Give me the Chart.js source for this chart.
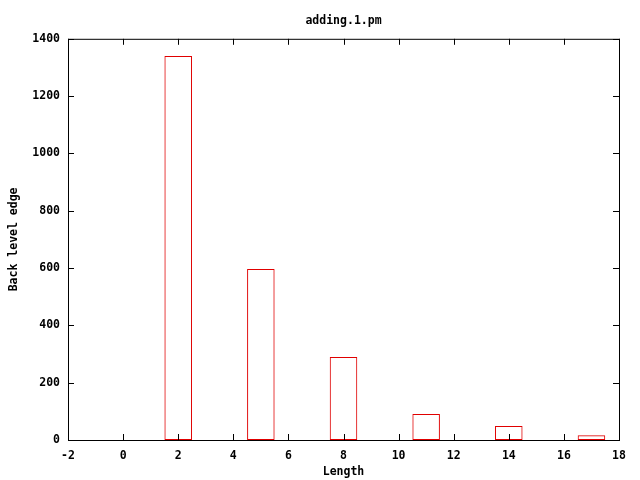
<!DOCTYPE html>
<html>
<head>
<meta charset="utf-8">
<script src="https://cdn.jsdelivr.net/npm/chart.js@4/dist/chart.umd.min.js"></script>
<style>
html, body { margin: 0; padding: 0; background: #fff; }
#wrap { width: 640px; height: 480px; }
</style>
</head>
<body>
<div id="wrap"><canvas id="adding"></canvas></div>
<script>
// values
const lengths = [2, 5, 8, 11, 14, 17];
const edges = [1340, 597, 290, 91, 49, 17];
const xRange = [-2, 18];
const yRange = [0, 1400];

const monoFont = { family: 'DejaVu Sans Mono', size: 11.5, weight: 'bold' };

// gnuplot style frame with inward ticks on all four sides
const frame = {
    id: 'frame',
    afterDatasetsDraw(chart) {
        const { ctx, chartArea: a, scales } = chart;
        const len = 6;
        ctx.save();
        ctx.strokeStyle = '#000';
        ctx.lineWidth = 1;
        ctx.strokeRect(a.left + 0.5, a.top + 0.5, a.right - a.left, a.bottom - a.top);
        ctx.beginPath();
        scales.x.ticks.forEach((t) => {
            const px = Math.round(scales.x.getPixelForValue(t.value)) + 0.5;
            ctx.moveTo(px, a.bottom);
            ctx.lineTo(px, a.bottom - len);
            ctx.moveTo(px, a.top);
            ctx.lineTo(px, a.top + len);
        });
        scales.y.ticks.forEach((t) => {
            const py = Math.round(scales.y.getPixelForValue(t.value)) + 0.5;
            ctx.moveTo(a.left, py);
            ctx.lineTo(a.left + len, py);
            ctx.moveTo(a.right, py);
            ctx.lineTo(a.right - len, py);
        });
        ctx.stroke();
        ctx.restore();
    },
};

const ctx = document.getElementById('adding');
const myChart = new Chart(ctx, {
    type: 'bar',
    data: {
        datasets: [
            {
                data: lengths.map((x, i) => ({ x: x, y: edges[i] })),
                backgroundColor: 'rgba(0,0,0,0)',
                borderColor: '#e00000',
                borderWidth: 1,
                borderSkipped: false,
                categoryPercentage: 1,
                // bar width is taken from the 2-unit tick spacing, so half of it = 1 unit
                barPercentage: 0.5,
            },
        ],
    },
    options: {
        responsive: true,
        maintainAspectRatio: false,
        animation: false,
        layout: { padding: { left: 0, right: 21, top: 0, bottom: 0 } },
        plugins: {
            legend: { display: false },
            tooltip: { enabled: false },
            title: {
                display: true,
                text: 'adding.1.pm',
                fullSize: false,
                color: '#000',
                font: monoFont,
                padding: { top: 14, bottom: 11 },
            },
        },
        scales: {
            x: {
                type: 'linear',
                min: xRange[0],
                max: xRange[1],
                offset: false,
                afterFit(scale) { scale.height = 40; },
                ticks: { stepSize: 2, color: '#000', font: monoFont, padding: 1, maxRotation: 0, callback: (v) => String(v) },
                grid: { display: false, offset: false },
                border: { display: false },
                title: { display: true, text: 'Length', color: '#000', font: monoFont, padding: { top: 0, bottom: 1 } },
            },
            y: {
                min: yRange[0],
                max: yRange[1],
                afterFit(scale) { scale.width = 68; },
                ticks: { stepSize: 200, color: '#000', font: monoFont, padding: 0, callback: (v) => String(v) },
                grid: { display: false },
                border: { display: false },
                title: { display: true, text: 'Back level edge', color: '#000', font: monoFont, padding: 7 },
            },
        },
    },
    plugins: [frame],
});
</script>
</body>
</html>
